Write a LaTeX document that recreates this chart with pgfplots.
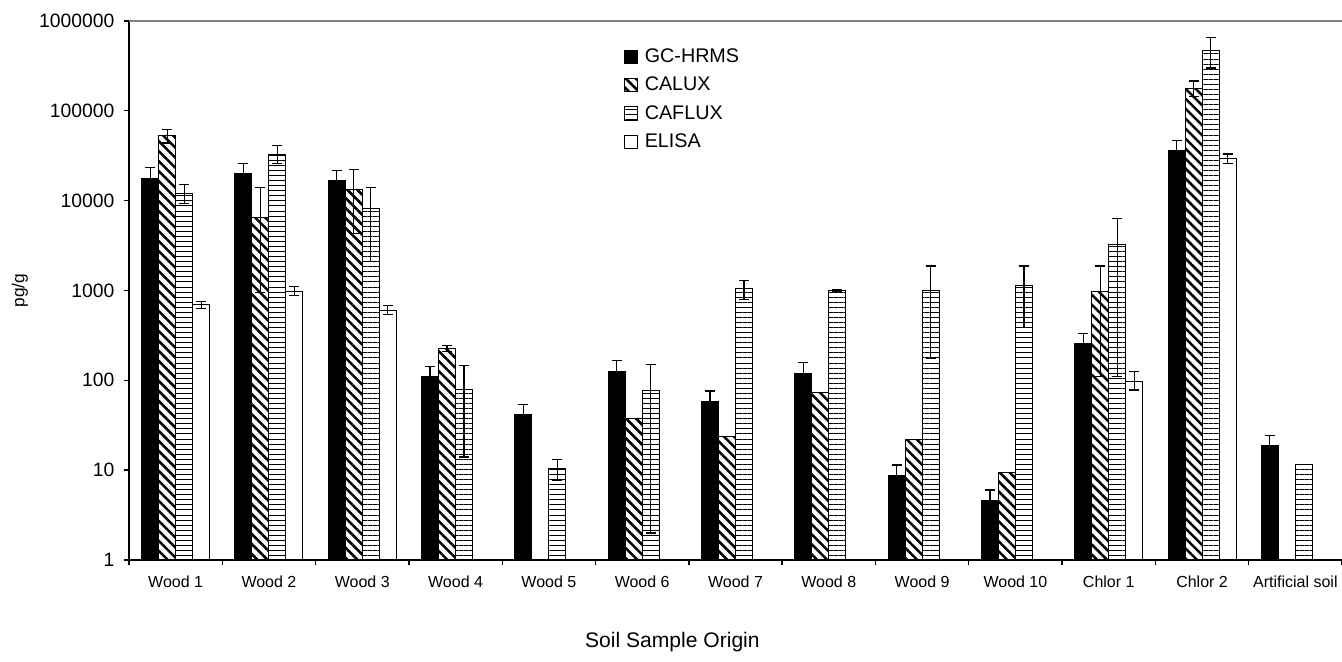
\documentclass[border=0pt]{standalone}
\usepackage{fontspec}
\setmainfont{Liberation Sans}
\usepackage{pgfplots}
\pgfplotsset{compat=1.18}
\usetikzlibrary{patterns.meta}
\begin{document}
\begin{tikzpicture}
\begin{axis}[
  scale only axis, width=909.75pt, height=404.25pt,
  ymode=log, ymin=1, ymax=1000000, log origin=infty,
  xmin=-0.5, xmax=12.5,
  axis x line*=bottom, axis y line*=left,
  axis line style={line width=1.1pt, black},
  tick align=outside,
  xtick={0,...,12},
  xticklabels={Wood 1,Wood 2,Wood 3,Wood 4,Wood 5,Wood 6,Wood 7,Wood 8,Wood 9,Wood 10,Chlor 1,Chlor 2,Artificial soil},
  major x tick style={draw=none},
  minor xtick={-0.5,0.5,...,12.5},
  minor tick length=4pt,
  minor x tick style={line width=1pt, black},
  ytick={1,10,100,1000,10000,100000,1000000},
  yticklabels={1,10,100,1000,10000,100000,1000000},
  yminorticks=false,
  major tick length=4pt,
  major y tick style={line width=1pt, black},
  xticklabel style={font=\fontsize{12}{14}\selectfont, yshift=-4.5pt},
  yticklabel style={font=\fontsize{14.5}{16}\selectfont, xshift=-3.5pt},
  every axis y label/.style={at={(rel axis cs:0,0.5)}, xshift=-81.75pt, rotate=90, anchor=center, font=\fontsize{13}{15}\selectfont},
  every axis x label/.style={at={(rel axis cs:0.448,0)}, yshift=-61.5pt, anchor=center, font=\fontsize{15.8}{18}\selectfont},
  ylabel={pg/g},
  xlabel={Soil Sample Origin},
  ybar, bar width=12.75pt,
  clip=false,
  legend style={draw=none, fill=none, at={(rel axis cs:0.4047,0.959)}, anchor=north west,
    font=\fontsize{14.8}{17}\selectfont, row sep=5.5pt,
    /tikz/every odd column/.append style={column sep=3pt}},
  legend cell align=left,
  legend image code/.code={\draw[#1, line width=0.75pt] (0pt,-4.9pt) rectangle (9.75pt,4.9pt);},
  error bars/error bar style={line width=0.9pt, black},
  error bars/error mark options={rotate=90, mark size=3.75pt, line width=0.9pt, black},
]
% GC-HRMS
\addplot[fill=black, draw=black, line width=0.75pt, bar shift=-19.125pt,
  error bars/.cd, y dir=both, y explicit] coordinates {
  (0,17500) +- (0,5900)
  (1,19900) +- (0,5900)
  (2,16700) +- (0,4800)
  (3,110) +- (0,33)
  (4,42) +- (0,12)
  (5,126) +- (0,41)
  (6,58) +- (0,18)
  (7,120) +- (0,38)
  (8,8.8) +- (0,2.6)
  (9,4.6) +- (0,1.4)
  (10,258) +- (0,75)
  (11,36000) +- (0,10400)
  (12,19) +- (0,5.5)
};
\addlegendentry{GC-HRMS}
% CALUX
\addplot[draw=black, line width=0.75pt, pattern={Lines[angle=-45,distance=5.3pt,line width=1.9pt]}, bar shift=-6.375pt,
  error bars/.cd, y dir=both, y explicit] coordinates {
  (0,52700) += (0,8800) -= (0,8800)
  (1,6450) += (0,7450) -= (0,5500)
  (2,13300) += (0,8700) -= (0,9000)
  (3,228) += (0,17) -= (0,17)
  (10,980) += (0,890) -= (0,870)
  (11,179000) += (0,36000) -= (0,34000)
};
\addlegendentry{CALUX}
% CAFLUX
\addplot[draw=black, line width=0.75pt, pattern={Lines[angle=0,distance=3.8pt,line width=0.75pt]}, bar shift=6.375pt,
  error bars/.cd, y dir=both, y explicit] coordinates {
  (0,12000) += (0,3000) -= (0,2700)
  (1,32500) += (0,8500) -= (0,6800)
  (2,8200) += (0,5700) -= (0,6100)
  (3,80) += (0,67) -= (0,66)
  (4,10.5) += (0,2.7) -= (0,2.8)
  (5,78) += (0,72) -= (0,76)
  (6,1040) += (0,260) -= (0,240)
  (7,1000) += (0,25) -= (0,25)
  (8,1000) += (0,870) -= (0,825)
  (9,1140) += (0,730) -= (0,750)
  (10,3240) += (0,3060) -= (0,3130)
  (11,470000) += (0,190000) -= (0,170000)
};
\addlegendentry{CAFLUX}
% ELISA
\addplot[fill=white, draw=black, line width=0.75pt, bar shift=19.125pt,
  error bars/.cd, y dir=both, y explicit] coordinates {
  (0,700) += (0,50) -= (0,70)
  (1,980) += (0,120) -= (0,100)
  (2,600) += (0,80) -= (0,60)
  (10,98) += (0,28) -= (0,20)
  (11,29300) += (0,3700) -= (0,3400)
};
\addlegendentry{ELISA}
% bars without error bars
\addplot[forget plot, draw=black, line width=0.75pt, pattern={Lines[angle=-45,distance=5.3pt,line width=1.9pt]}, bar shift=-6.375pt] coordinates {
  (5,38) (6,24) (7,74) (8,22) (9,9.5)
};
\addplot[forget plot, draw=black, line width=0.75pt, pattern={Lines[angle=0,distance=3.8pt,line width=0.75pt]}, bar shift=6.375pt] coordinates {
  (12,11.7)
};
\draw[gray, line width=1pt] (rel axis cs:0,1) -- (rel axis cs:1,1);
\coordinate (bl) at ([xshift=-96.75pt,yshift=-76.5pt]rel axis cs:0,0);
\coordinate (tr) at ([yshift=15.75pt]rel axis cs:1,1);
\end{axis}
\pgfresetboundingbox
\path (bl) rectangle (tr);
\end{tikzpicture}
\end{document}
